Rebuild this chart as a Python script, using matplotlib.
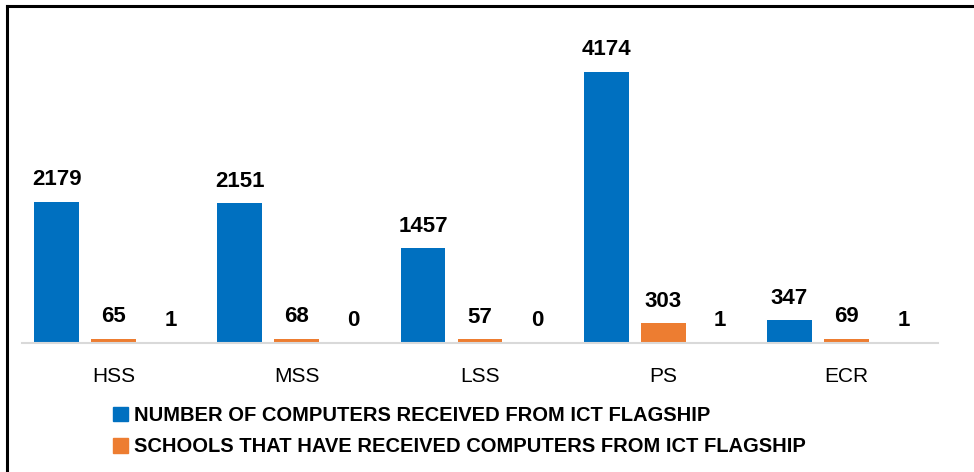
import matplotlib
matplotlib.use("Agg")
import matplotlib.pyplot as plt
from matplotlib.lines import Line2D
from matplotlib.patches import Patch
import numpy as np

categories = ["HSS", "MSS", "LSS", "PS", "ECR"]
computers = [2179, 2151, 1457, 4174, 347]
schools = [65, 68, 57, 303, 69]
third = [1, 0, 0, 1, 1]
series_names = ["NUMBER OF COMPUTERS RECEIVED FROM ICT FLAGSHIP",
                "SCHOOLS THAT HAVE RECEIVED COMPUTERS FROM ICT FLAGSHIP"]

blue = "#0070C0"
orange = "#ED7D31"
grey = "#A5A5A5"
font = ["Liberation Sans", "DejaVu Sans"]
plt.rcParams["font.family"] = font

fig = plt.figure(figsize=(9.74, 4.72), dpi=100)
ax = fig.add_axes([22/974, 129/472, 916/974, 292/472])

x = np.arange(len(categories))
w = 0.245
step = 0.311
for vals, off, col in [(computers, -step, blue), (schools, 0, orange), (third, step, grey)]:
    bars = ax.bar(x + off, vals, w, color=col, zorder=2)
    for b, v in zip(bars, vals):
        ax.annotate(str(v), (b.get_x() + b.get_width()/2, b.get_height()),
                    xytext=(0, 12), textcoords="offset points",
                    ha="center", va="baseline", fontsize=16, fontweight="bold",
                    color="black")

ax.set_xlim(-0.5, len(categories) - 0.5)
ax.set_ylim(0, 4500)
ax.set_xticks(x)
ax.set_xticklabels(categories, fontsize=15)
ax.tick_params(axis="x", length=0, pad=17)
ax.set_yticks([])
for s in ["top", "right", "left"]:
    ax.spines[s].set_visible(False)
ax.spines["bottom"].set_color("#d9d9d9")
ax.spines["bottom"].set_linewidth(1.5)
ax.patch.set_alpha(0)

handles = [Patch(color=blue), Patch(color=orange)]
fig.legend(handles, series_names, loc="upper left",
           bbox_to_anchor=(103/974, 1 - 396/472), frameon=False,
           prop={"size": 14.5, "weight": "bold"},
           handlelength=0.75, handleheight=0.75, handletextpad=0.3,
           labelspacing=0.6, borderpad=0)

# outer border (top and left)
fig.add_artist(Line2D([7/974, 1], [1 - 6/472, 1 - 6/472], color="black", lw=2.2,
                      transform=fig.transFigure))
fig.add_artist(Line2D([7/974, 7/974], [0, 1 - 6/472], color="black", lw=2.2,
                      transform=fig.transFigure))

fig.savefig("out.png", dpi=100)
